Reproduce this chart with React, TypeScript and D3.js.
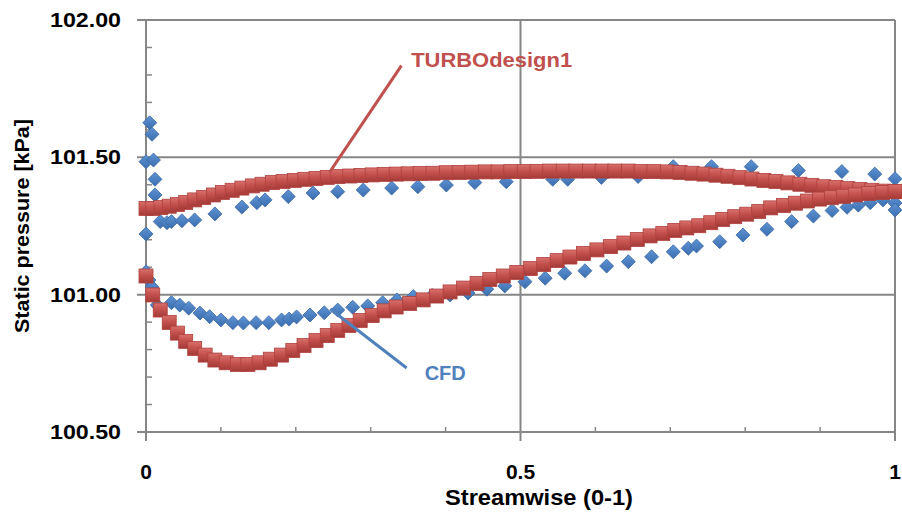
import React from 'react';
import * as d3 from 'd3';

// Static pressure along the streamwise direction: TURBOdesign1 vs CFD
const W = 902;
const H = 515;

const pressureTicks = [100.5, 101, 101.5, 102];
const pressureLabels = ['100.50', '101.00', '101.50', '102.00'];
const streamTicks = [0, 0.5, 1];
const streamLabels = ['0', '0.5', '1'];

// TURBOdesign1 – upper branch
const tdUpperS = [
  0, 0.009, 0.02, 0.031, 0.042, 0.053, 0.065, 0.077, 0.09, 0.102,
  0.115, 0.128, 0.142, 0.155, 0.169, 0.183, 0.198, 0.212, 0.227, 0.242,
  0.256, 0.272, 0.287, 0.302, 0.318, 0.334, 0.35, 0.366, 0.383, 0.401,
  0.418, 0.435, 0.453, 0.47, 0.487, 0.505, 0.522, 0.539, 0.557, 0.574,
  0.592, 0.609, 0.626, 0.644, 0.661, 0.678, 0.696, 0.713, 0.729, 0.745,
  0.761, 0.777, 0.793, 0.809, 0.825, 0.841, 0.857, 0.873, 0.889, 0.905,
  0.921, 0.937, 0.953, 0.969, 0.985, 1.0,
];
const tdUpperP = [
  101.314, 101.314, 101.317, 101.322, 101.328, 101.336, 101.345, 101.354, 101.363, 101.372,
  101.38, 101.388, 101.396, 101.402, 101.408, 101.412, 101.416, 101.42, 101.423, 101.427,
  101.43, 101.432, 101.434, 101.436, 101.438, 101.439, 101.44, 101.441, 101.442, 101.444,
  101.445, 101.446, 101.447, 101.447, 101.448, 101.448, 101.449, 101.45, 101.45, 101.45,
  101.45, 101.45, 101.45, 101.45, 101.448, 101.448, 101.447, 101.445, 101.442, 101.439,
  101.435, 101.431, 101.426, 101.421, 101.416, 101.412, 101.407, 101.402, 101.398, 101.393,
  101.39, 101.386, 101.383, 101.38, 101.377, 101.375,
];

// TURBOdesign1 – lower branch
const tdLowerS = [
  0, 0.009, 0.019, 0.031, 0.042, 0.053, 0.065, 0.079, 0.092, 0.107,
  0.122, 0.136, 0.151, 0.166, 0.181, 0.196, 0.211, 0.227, 0.242, 0.256,
  0.271, 0.286, 0.302, 0.318, 0.334, 0.352, 0.37, 0.388, 0.406, 0.424,
  0.442, 0.459, 0.477, 0.495, 0.513, 0.531, 0.549, 0.566, 0.584, 0.602,
  0.62, 0.638, 0.656, 0.673, 0.69, 0.706, 0.722, 0.738, 0.754, 0.77,
  0.786, 0.802, 0.818, 0.834, 0.851, 0.867, 0.883, 0.899, 0.915, 0.931,
  0.947, 0.965, 0.983, 1.0,
];
const tdLowerP = [
  101.068, 100.999, 100.944, 100.899, 100.86, 100.83, 100.804, 100.78, 100.762, 100.752,
  100.746, 100.746, 100.752, 100.765, 100.78, 100.797, 100.815, 100.833, 100.851, 100.87,
  100.888, 100.906, 100.924, 100.941, 100.955, 100.968, 100.981, 100.995, 101.01, 101.024,
  101.041, 101.055, 101.068, 101.081, 101.095, 101.11, 101.124, 101.137, 101.15, 101.163,
  101.175, 101.188, 101.201, 101.214, 101.223, 101.234, 101.243, 101.251, 101.262, 101.274,
  101.284, 101.293, 101.303, 101.316, 101.325, 101.333, 101.341, 101.348, 101.353, 101.358,
  101.363, 101.368, 101.372, 101.375,
];

// CFD – upper branch
const cfdUpperS = [
  0.005, 0.008, 0, 0.01, 0.012, 0.012, 0, 0.019, 0.028, 0.034,
  0.048, 0.065, 0.092, 0.128, 0.148, 0.159, 0.19, 0.223, 0.256, 0.29,
  0.328, 0.363, 0.401, 0.439, 0.481, 0.543, 0.563, 0.608, 0.657, 0.704,
  0.755, 0.808, 0.871, 0.929, 0.973, 1.0,
];
const cfdUpperP = [
  101.626, 101.584, 101.484, 101.49, 101.42, 101.363, 101.221, 101.266, 101.262, 101.266,
  101.269, 101.272, 101.294, 101.319, 101.335, 101.345, 101.357, 101.37, 101.375, 101.381,
  101.388, 101.393, 101.399, 101.408, 101.411, 101.42, 101.42, 101.427, 101.43, 101.466,
  101.466, 101.466, 101.452, 101.448, 101.439, 101.422,
];

// CFD – lower branch
const cfdLowerS = [
  0, 0.004, 0.008, 0.015, 0.034, 0.045, 0.057, 0.072, 0.085, 0.1,
  0.116, 0.13, 0.147, 0.164, 0.181, 0.191, 0.201, 0.219, 0.238, 0.256,
  0.276, 0.296, 0.316, 0.335, 0.357, 0.382, 0.406, 0.43, 0.455, 0.479,
  0.506, 0.533, 0.559, 0.586, 0.615, 0.644, 0.675, 0.704, 0.724, 0.735,
  0.766, 0.797, 0.829, 0.862, 0.891, 0.916, 0.936, 0.951, 0.967, 0.984,
  1.0, 1.0,
];
const cfdLowerP = [
  101.083, 101.053, 101.028, 100.962, 100.971, 100.962, 100.951, 100.933, 100.92, 100.908,
  100.898, 100.897, 100.898, 100.898, 100.908, 100.911, 100.919, 100.926, 100.934, 100.944,
  100.954, 100.959, 100.971, 100.981, 100.993, 100.997, 100.999, 101.006, 101.02, 101.032,
  101.047, 101.06, 101.078, 101.087, 101.104, 101.12, 101.138, 101.156, 101.169, 101.177,
  101.193, 101.217, 101.238, 101.266, 101.286, 101.306, 101.318, 101.326, 101.335, 101.345,
  101.334, 101.308,
];

const RED = '#C0504D';
const BLUE = '#4F81BD';
const GRID = '#868686';
const FONT = '"Liberation Sans", Arial, sans-serif';

const zip = (s: number[], p: number[]) => s.map((v, i) => ({ s: v, p: p[i] }));

export default function App() {
  const x = d3.scaleLinear().domain([0, 1]).range([146, 895]);
  const y = d3.scaleLinear().domain([100.5, 102]).range([432, 20]);

  const [x0, x1] = x.range();
  const [yBottom, yTop] = y.range();

  const minorY = d3.ticks(100.5, 102, 15).filter((t) => !pressureTicks.some((m) => Math.abs(m - t) < 1e-6));
  const minorX = d3.ticks(0, 1, 10).filter((t) => !streamTicks.some((m) => Math.abs(m - t) < 1e-6));

  const cfd = [...zip(cfdUpperS, cfdUpperP), ...zip(cfdLowerS, cfdLowerP)];
  const td = [...zip(tdUpperS, tdUpperP), ...zip(tdLowerS, tdLowerP)];

  const diamond = 'M0,-7L7,0L0,7L-7,0Z';

  return (
    <div style={{ position: 'absolute', left: 0, top: 0, background: '#fff' }}>
      <svg width={W} height={H} style={{ display: 'block' }} fontFamily={FONT}>
        <defs>
          <linearGradient id="sqFill" x1="0" y1="0" x2="0" y2="1">
            <stop offset="0" stopColor="#D8706C" />
            <stop offset="0.45" stopColor="#C4514D" />
            <stop offset="1" stopColor="#A43A37" />
          </linearGradient>
          <linearGradient id="dmFill" x1="0" y1="0" x2="0" y2="1">
            <stop offset="0" stopColor="#5E93D4" />
            <stop offset="1" stopColor="#3C6EAF" />
          </linearGradient>
        </defs>
        <rect width={W} height={H} fill="#fff" />

        {/* horizontal gridlines */}
        {pressureTicks.map((t) => (
          <line key={'gy' + t} x1={x0 - 9} x2={x1} y1={y(t)} y2={y(t)} stroke={GRID} strokeWidth={2} />
        ))}
        {/* vertical gridlines */}
        {streamTicks.map((t) => (
          <line key={'gx' + t} x1={x(t)} x2={x(t)} y1={yTop} y2={yBottom + 9} stroke={GRID} strokeWidth={2} />
        ))}
        {/* minor ticks */}
        {minorY.map((t) => (
          <line key={'my' + t} x1={x0} x2={x0 + 6} y1={y(t)} y2={y(t)} stroke={GRID} strokeWidth={1.5} />
        ))}
        {minorX.map((t) => (
          <line key={'mx' + t} x1={x(t)} x2={x(t)} y1={yBottom} y2={yBottom - 5} stroke={GRID} strokeWidth={1.5} />
        ))}

        {/* y tick labels */}
        {pressureTicks.map((t, i) => (
          <text
            key={'ty' + t}
            x={121}
            y={y(t)}
            dy="0.35em"
            textAnchor="end"
            fontSize={20}
            fontWeight="bold"
            textLength={71}
            lengthAdjust="spacingAndGlyphs"
          >
            {pressureLabels[i]}
          </text>
        ))}
        {/* x tick labels */}
        {streamTicks.map((t, i) => (
          <text key={'tx' + t} x={x(t)} y={472} dy="0.35em" textAnchor="middle" fontSize={21} fontWeight="bold">
            {streamLabels[i]}
          </text>
        ))}

        {/* axis titles */}
        <text
          x={539}
          y={497}
          dy="0.35em"
          textAnchor="middle"
          fontSize={22}
          fontWeight="bold"
          textLength={188}
          lengthAdjust="spacingAndGlyphs"
        >
          Streamwise (0-1)
        </text>
        <text
          transform="translate(22,226) rotate(-90)"
          dy="0.35em"
          textAnchor="middle"
          fontSize={21}
          fontWeight="bold"
          textLength={214}
          lengthAdjust="spacingAndGlyphs"
        >
          Static pressure [kPa]
        </text>

        {/* CFD markers */}
        {cfd.map((d, i) => (
          <path
            key={'c' + i}
            d={diamond}
            transform={`translate(${x(d.s)},${y(d.p)})`}
            fill="url(#dmFill)"
            stroke="#3A69A6"
            strokeWidth={0.8}
          />
        ))}

        {/* TURBOdesign1 markers */}
        {td.map((d, i) => (
          <rect
            key={'t' + i}
            x={x(d.s) - 7}
            y={y(d.p) - 7}
            width={14}
            height={14}
            fill="url(#sqFill)"
            stroke="#B0413E"
            strokeWidth={0.8}
          />
        ))}

        {/* leader lines and labels */}
        <line x1={x(0.245)} y1={y(101.445)} x2={x(0.341)} y2={y(101.834)} stroke={RED} strokeWidth={3} />
        <text x={x(0.354)} y={y(101.855)} dy="0.35em" fontSize={21} fontWeight="bold" fill={RED} textLength={161} lengthAdjust="spacingAndGlyphs">
          TURBOdesign1
        </text>
        <line x1={x(0.246)} y1={y(100.948)} x2={x(0.348)} y2={y(100.733)} stroke={BLUE} strokeWidth={3} />
        <text x={x(0.372)} y={y(100.715)} dy="0.35em" fontSize={20} fontWeight="bold" fill={BLUE}>
          CFD
        </text>
      </svg>
    </div>
  );
}
